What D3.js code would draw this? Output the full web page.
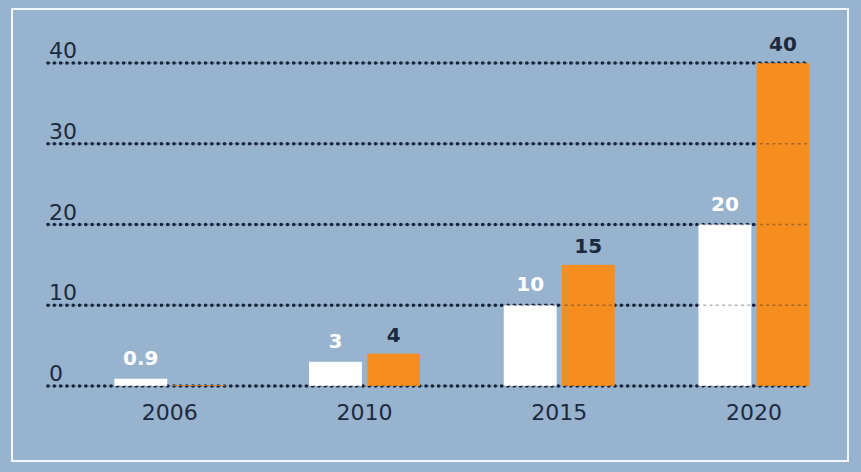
<!DOCTYPE html>
<html>
<head>
<meta charset="utf-8">
<script src="https://cdn.jsdelivr.net/npm/d3@7"></script>
<style>
html,body{margin:0;padding:0;background:#97b3cd;}
svg{display:block;}
text{font-family:"DejaVu Sans",sans-serif;}
</style>
</head>
<body>
<svg id="chart" width="861" height="472"></svg>
<script>
const years = ["2006", "2010", "2015", "2020"];
const whiteValues = [0.9, 3, 10, 20];
const orangeValues = [0.1, 4, 15, 40];
const whiteLabels = ["0.9", "3", "10", "20"];
const orangeLabels = ["", "4", "15", "40"];
const yTicks = [0, 10, 20, 30, 40];

const W = 861, H = 472;
const FONT = "\"DejaVu Sans\",sans-serif";
const svg = d3.select("#chart");
svg.append("rect").attr("width", W).attr("height", H).attr("fill", "#97b3cd");
svg.append("rect").attr("x", 12).attr("y", 9).attr("width", 836).attr("height", 452)
  .attr("fill", "none").attr("stroke", "#f2f7fb").attr("stroke-width", 2);

const y = d3.scaleLinear().domain([0, 40]).range([386, 63]);
const x = d3.scaleBand().domain(years).range([72.5, 851.3]).paddingInner(0.43).paddingOuter(0.215);
const series = ["white", "orange"];
const xs = d3.scaleBand().domain(series).range([0, x.bandwidth()]).paddingInner(0.09);

const rows = years.map((yr, i) => ({year: yr, white: whiteValues[i], orange: orangeValues[i],
  wl: whiteLabels[i], ol: orangeLabels[i]}));

// grid lines
const gridX0 = 48, gridX1 = 810;
const grid = svg.append("g");
yTicks.forEach(t => {
  grid.append("line").attr("x1", gridX0).attr("x2", gridX1)
    .attr("y1", y(t)).attr("y2", y(t))
    .attr("stroke", "#16233a").attr("stroke-width", 3.6)
    .attr("stroke-linecap", "round").attr("stroke-dasharray", "0 6.3");
});

// y labels
const yAxis = d3.axisLeft(y).tickValues(yTicks).tickSize(0).tickPadding(0);
const ya = svg.append("g").attr("transform", "translate(48,0)").call(yAxis);
ya.select(".domain").remove();
ya.selectAll("text").attr("text-anchor", "start").attr("x", 1).attr("dy", "-0.25em")
  .attr("font-size", 22).attr("fill", "#1c2a40").attr("font-family", FONT);

// bars
const groups = svg.append("g").selectAll("g").data(rows).join("g")
  .attr("transform", d => `translate(${x(d.year)},0)`);
groups.append("rect").attr("x", xs("white")).attr("width", xs.bandwidth())
  .attr("y", d => y(d.white)).attr("height", d => y(0) - y(d.white)).attr("fill", "#ffffff");
groups.append("rect").attr("x", xs("orange")).attr("width", xs.bandwidth())
  .attr("y", d => y(d.orange)).attr("height", d => y(0) - y(d.orange)).attr("fill", "#f68d1f");

// faint dotted overlay on bars
const overlay = svg.append("g");
yTicks.forEach(t => {
  overlay.append("line").attr("x1", gridX0).attr("x2", gridX1)
    .attr("y1", y(t)).attr("y2", y(t))
    .attr("stroke", "#16233a").attr("stroke-opacity", 0.35).attr("stroke-width", 1.5)
    .attr("stroke-dasharray", "3 3.3");
});

// value labels
groups.append("text").attr("x", xs("white") + xs.bandwidth() / 2)
  .attr("y", d => y(d.white) - 14).attr("text-anchor", "middle")
  .attr("font-size", 20).attr("font-weight", "bold").attr("fill", "#ffffff")
  .attr("font-family", FONT).text(d => d.wl);
groups.append("text").attr("x", xs("orange") + xs.bandwidth() / 2)
  .attr("y", d => y(d.orange) - 12).attr("text-anchor", "middle")
  .attr("font-size", 20).attr("font-weight", "bold").attr("fill", "#1c2a40")
  .attr("font-family", FONT).text(d => d.ol);

// x labels
const xAxis = d3.axisBottom(x).tickSize(0).tickPadding(0);
const xa = svg.append("g").attr("transform", "translate(0,420)").call(xAxis);
xa.select(".domain").remove();
xa.selectAll("text").attr("dy", 0).attr("y", 0).attr("font-size", 22).attr("fill", "#1c2a40")
  .attr("font-family", FONT);
</script>
</body>
</html>
